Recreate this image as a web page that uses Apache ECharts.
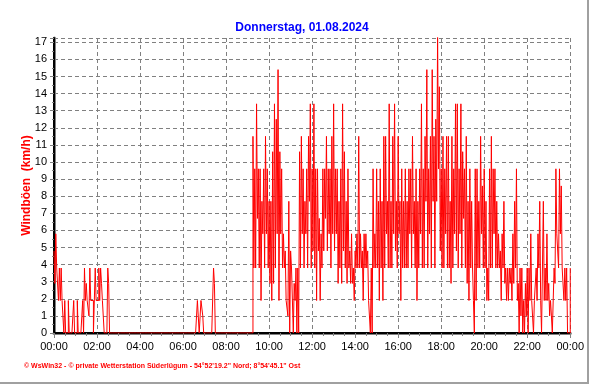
<!DOCTYPE html>
<html><head><meta charset="utf-8">
<script src="https://cdn.jsdelivr.net/npm/echarts@6/dist/echarts.min.js"></script>
<style>
html,body{margin:0;padding:0;background:#fff;}
#frame{width:587px;height:382px;border-right:2px solid #a0a0a0;border-bottom:2px solid #a0a0a0;}
#c{width:587px;height:382px;}
</style></head>
<body><div id="frame"><div id="c"></div></div>
<script>
// Wind gusts (km/h). Each 5-minute slot: first half = gustHigh, second half = gustLow
const gustHigh_0000 = [4.8,5.8,3.8,3.8,3.8,1.9,1.9,0,1.9,0,0,1.9,
  0,1.9,0,0,1.9,3.8,2.9,1.9,3.8,1.9,0,3.8,
  1.9,3.8,3.8,1.9,0,0,3.8,0,0,0,0,0,
  0,0,0,0,0,0,0,0,0,0,0,0];
const gustLow_0000 = [2.9,3.8,1.9,1.9,1.9,0,0,0,0,0,0,0,
  0,0,0,0,0,1.9,1.9,1.0,1.9,1.9,0,1.9,
  1.9,1.9,2.9,1.9,0,0,2.9,0,0,0,0,0,
  0,0,0,0,0,0,0,0,0,0,0,0];
const gustHigh_0400 = [0,0,0,0,0,0,0,0,0,0,0,0,
  0,0,0,0,0,0,0,0,0,0,0,0,
  0,0,0,0,0,0,0,0,1.9,0,1.9,1.0,
  0,0,0,0,0,3.8,0,0,0,0,0,0];
const gustLow_0400 = [0,0,0,0,0,0,0,0,0,0,0,0,
  0,0,0,0,0,0,0,0,0,0,0,0,
  0,0,0,0,0,0,0,0,1.9,0,1.9,0,
  0,0,0,0,0,2.9,0,0,0,0,0,0];
const gustHigh_0800 = [0,0,0,0,0,0,0,0,0,0,0,0,
  0,0,0,11.5,9.6,13.4,9.6,9.6,7.7,9.6,11.5,9.6,
  7.7,7.7,10.6,13.4,12.5,15.4,10.6,9.6,5.8,4.8,1.9,7.7,
  4.8,3.8,2.9,3.8,3.8,10.6,11.5,9.6,7.7,9.6,11.5,13.4];
const gustLow_0800 = [0,0,0,0,0,0,0,0,0,0,0,0,
  0,0,0,3.8,3.8,6.7,3.8,1.9,5.8,3.8,5.8,3.8,
  2.9,1.9,2.9,3.8,5.8,1.9,5.8,3.8,3.8,1.9,1.0,0,
  3.8,0,1.9,0,0,3.8,5.8,3.8,5.8,3.8,7.7,3.8];
const gustHigh_1200 = [9.6,13.4,9.6,9.6,6.7,5.8,9.6,9.6,11.5,9.6,9.6,11.5,
  13.4,9.6,9.6,7.7,9.6,13.4,10.6,7.7,9.6,4.8,5.8,3.8,
  4.8,5.8,11.5,5.8,4.8,5.8,5.8,4.8,1.9,3.8,9.6,5.8,
  9.6,7.7,9.6,7.7,11.5,11.5,7.7,13.4,7.7,11.5,13.4,7.7];
const gustLow_1200 = [4.8,3.8,1.9,4.8,1.9,3.8,4.8,6.7,4.8,5.8,3.8,5.8,
  4.8,5.8,2.9,3.8,2.9,4.8,3.8,2.9,3.8,2.9,2.9,1.9,
  3.8,3.8,3.8,3.8,1.9,3.8,3.8,1.9,0,0,3.8,3.8,
  3.8,1.9,3.8,1.9,3.8,5.8,3.8,3.8,3.8,5.8,4.8,3.8];
const gustHigh_1600 = [11.5,7.7,9.6,7.7,9.6,7.7,9.6,9.6,11.5,7.7,9.6,7.7,
  9.6,13.4,9.6,11.5,15.4,9.6,11.5,15.4,11.5,12.5,17.5,14.4,
  9.6,11.5,9.6,11.5,11.5,7.7,11.5,9.6,13.4,13.4,9.6,13.4,
  10.6,9.6,11.5,7.7,9.6,7.7,1.9,9.6,9.6,7.7,11.5,8.6];
const gustLow_1600 = [5.8,1.9,3.8,3.8,3.8,3.8,5.8,3.8,5.8,3.8,1.9,3.8,
  5.8,3.8,3.8,7.7,3.8,5.8,3.8,7.7,3.8,7.7,9.6,4.8,
  3.8,3.8,5.8,3.8,3.8,2.9,3.8,5.8,4.8,3.8,5.8,3.8,
  6.7,3.8,2.9,1.9,3.8,3.8,0,1.9,3.8,3.8,5.8,3.8];
const gustHigh_2000 = [9.6,7.7,3.8,9.6,11.5,9.6,9.6,7.7,5.8,4.8,5.8,7.7,
  3.8,3.8,3.8,3.8,5.8,7.7,9.6,2.9,3.8,3.8,1.9,2.9,
  3.8,3.8,5.8,1.9,1.9,3.8,5.8,7.7,0,7.7,3.8,5.8,
  2.9,1.9,0,3.8,9.6,5.8,9.6,8.6,3.8,3.8,3.8,0,
  3.8];
const gustLow_2000 = [3.8,1.9,1.9,3.8,3.8,5.8,3.8,3.8,3.8,1.9,3.8,2.9,
  1.9,1.9,2.9,1.9,2.9,3.8,1.9,0,1.0,0,0,1.0,
  0,1.9,1.9,0,1.9,1.9,3.8,1.9,0,1.9,1.9,1.9,
  1.0,1.0,0,2.9,5.8,3.8,5.8,3.8,1.9,1.9,0,0];
const slotMinutes = 5;
const xTickLabels = ['00:00','02:00','04:00','06:00','08:00','10:00','12:00','14:00','16:00','18:00','20:00','22:00','00:00'];
const titleText = 'Donnerstag, 01.08.2024';
const yName = 'Windböen  (km/h)';
const footer = '\u00a9 WsWin32 - \u00a9 private Wetterstation Süderlügum - 54°52\'19.2" Nord; 8°54\'45.1" Ost';

const hi = [].concat(gustHigh_0000, gustHigh_0400, gustHigh_0800, gustHigh_1200, gustHigh_1600, gustHigh_2000);
const lo = [].concat(gustLow_0000, gustLow_0400, gustLow_0800, gustLow_1200, gustLow_1600, gustLow_2000);
// step outline: high for the first half of each slot, low for the second half
const data = [];
hi.forEach((h, i) => {
  const t0 = i * slotMinutes;
  if (i >= lo.length) { data.push([t0, h]); return; }
  const half = slotMinutes / 2;
  data.push([t0, h], [t0 + half, h], [t0 + half, lo[i]], [t0 + slotMinutes, lo[i]]);
});

const gridCol = '#808080';
const chart = echarts.init(document.getElementById('c'), null, {renderer: 'canvas'});
chart.setOption({
  animation: false,
  backgroundColor: '#fff',
  title: [
    {text: titleText, left: 297, top: 17, textAlign: 'center',
     textStyle: {color: '#0000ff', fontSize: 12, fontWeight: 'bold', fontFamily: 'Liberation Sans, Arial'}},
    {text: footer, left: 19, top: 358,
     textStyle: {color: '#ff0000', fontSize: 7, fontWeight: 'bold', fontFamily: 'Liberation Sans, Arial'}}
  ],
  grid: {left: 54, right: 14, top: 38, bottom: 49, containLabel: false},
  xAxis: [{
    type: 'value', min: 0, max: 1440, interval: 120,
    axisLine: {show: true, onZero: false, lineStyle: {color: gridCol, width: 3}},
    axisTick: {show: true, length: 5, lineStyle: {color: gridCol, width: 1}},
    minorTick: {show: true, splitNumber: 4, length: 3, lineStyle: {color: gridCol}},
    axisLabel: {margin: 8, color: '#000', fontSize: 11, fontFamily: 'Liberation Sans, Arial',
      formatter: v => xTickLabels[Math.round(v / 120)] || ''},
    splitLine: {show: true, lineStyle: {color: gridCol, type: [4, 3], width: 1}}
  }, {
    type: 'value', min: 0, max: 1440, position: 'top',
    axisLine: {show: true, lineStyle: {color: '#000', width: 2}},
    axisTick: {show: false}, axisLabel: {show: false}, splitLine: {show: false}
  }],
  yAxis: [{
    type: 'value', min: 0, max: 17.25, interval: 1,
    name: yName, nameLocation: 'middle', nameGap: 21, nameRotate: 90, nameMoveOverlap: false,
    nameTextStyle: {color: '#ff0000', fontSize: 12, fontWeight: 'bold', fontFamily: 'Liberation Sans, Arial'},
    axisLine: {show: true, onZero: false, lineStyle: {color: gridCol, width: 3}},
    axisTick: {show: true, length: 4, lineStyle: {color: gridCol}},
    minorTick: {show: true, splitNumber: 2, length: 2, lineStyle: {color: gridCol}},
    axisLabel: {margin: 7, color: '#000', fontSize: 11, fontFamily: 'Liberation Sans, Arial',
      formatter: v => Number.isInteger(v) ? String(v) : ''},
    splitLine: {show: true, lineStyle: {color: gridCol, type: [4, 3], width: 1}}
  }, {
    type: 'value', min: 0, max: 17.25, position: 'right',
    axisLine: {show: true, lineStyle: {color: '#000', width: 2}},
    axisTick: {show: false}, axisLabel: {show: false}, splitLine: {show: false}
  }],
  series: [{
    type: 'line', data: data, symbol: 'none', z: 5,
    lineStyle: {color: '#ff0000', width: 1}, clip: true
  }]
});
</script></body></html>
